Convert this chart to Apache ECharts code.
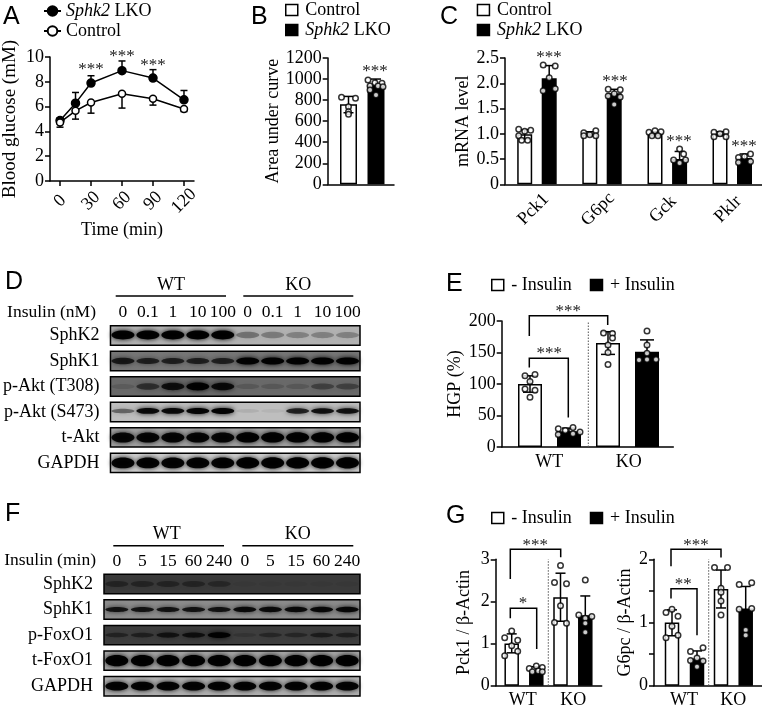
<!DOCTYPE html>
<html><head><meta charset="utf-8">
<style>html,body{margin:0;padding:0;background:#fff}#c{width:762px;height:712px}</style>
<script src="https://cdn.jsdelivr.net/npm/echarts@6/dist/echarts.min.js"></script>
</head><body><div id="c"></div>
<script>
// ---------- Panel A ----------
const aTimes=[0,15,30,60,90,120];
const aLko=[4.88,6.28,7.9,8.9,8.3,6.55];
const aLkoHigh=[5.1,7.14,8.49,9.68,8.98,7.3];
const aCtrl=[4.72,5.66,6.33,7.03,6.63,5.8];
const aCtrlLow=[4.34,4.99,5.47,5.88,6.12,5.6];
// ---------- Panel B ----------
const bMeans0=[760], bMeans1=[940];
const bLow0=[680], bHigh0=[835], bLow1=[870], bHigh1=[1000];
const bDots0=[[826,817,738,690,665]];
const bDots1=[[991,966,959,934,934,928,896,848]];
// ---------- Panel C ----------
const cCats=['Pck1','G6pc','Gck','Pklr'];
const cMeans0=[0.99,1.0,1.0,1.0], cMeans1=[2.1,1.8,0.5,0.52];
const cLow0=[0.9,0.96,0.96,0.96], cHigh0=[1.08,1.04,1.04,1.04];
const cLow1=[1.85,1.72,0.38,0.46], cHigh1=[2.35,1.88,0.65,0.6];
const cDots0=[[1.09,1.07,1.05,0.96,0.87,0.87],[1.02,1.06,0.98,0.96,0.96],[1.03,1.06,1.04,0.96,0.96],[1.03,1.04,1.0,0.94,0.94]];
const cDots1=[[2.36,2.34,2.11,1.85,1.89],[1.88,1.87,1.79,1.75,1.73,1.58],[0.7,0.48,0.6,0.42,0.48],[0.6,0.55,0.53,0.43,0.45]];
// ---------- Blots ----------
const dLanes=['0','0.1','1','10','100','0','0.1','1','10','100'];
const dRows=['SphK2','SphK1','p-Akt (T308)','p-Akt (S473)','t-Akt','GAPDH'];
const dBackground=[178,118,105,190,160,205];
const dBandHeight=[4.5,3.6,4,3,5.2,5.6];
const dBandShift=[-0.5,0,0,-1,0,0];
const dBands=[
 [.97,.97,.97,.97,.97,.32,.28,.25,.25,.25],
 [.72,.66,.66,.66,.66,.97,.97,.97,.97,.97],
 [.12,.5,.8,.97,.85,.15,.15,.15,.35,.35],
 [.42,.9,.9,.95,.97,.08,.05,.75,.85,.85],
 [.92,.92,.92,.92,.92,.97,.97,.97,.97,.97],
 [.95,.95,.95,.95,.95,.97,.97,.97,.97,.97]];
const fLanes=['0','5','15','60','240','0','5','15','60','240'];
const fRows=['SphK2','SphK1','p-FoxO1','t-FoxO1','GAPDH'];
const fBackground=[58,140,62,165,175];
const fBandHeight=[4,2.8,3,5.6,4.4];
const fBandShift=[0,0,0,0,0];
const fBands=[
 [.35,.35,.35,.35,.3,.05,.05,.05,.05,.05],
 [.8,.8,.8,.8,.8,.88,.88,.88,.9,.9],
 [.4,.45,.65,.7,.95,.15,.35,.35,.5,.45],
 [.97,.97,.97,.97,.97,.97,.97,.97,.97,.97],
 [.95,.95,.95,.95,.95,.95,.95,.95,.95,.95]];
// ---------- Panel E ----------
const eGroups=['WT','KO'];
const eMeans0=[100,165], eMeans1=[25,151];
const eLow0=[87,147], eHigh0=[113,183], eLow1=[21,133], eHigh1=[30,170];
const eDots0=[[113,115,104,92,90,79],[181,180,173,162,150,131]];
const eDots1=[[29,31,26,24,20,21],[184,162,149,138,139,139]];
// ---------- Panel G ----------
const gLMeans0=[1.0,2.1], gLMeans1=[0.36,1.67];
const gLLow0=[0.78,1.53], gLHigh0=[1.23,2.67], gLLow1=[0.3,1.2], gLHigh1=[0.45,2.13];
const gLDots0=[[1.3,1.14,1.08,0.95,0.82,0.71],[2.85,2.45,2.42,1.9,1.5,1.48]];
const gLDots1=[[0.41,0.47,0.43,0.33,0.35,0.33],[2.51,1.68,1.64,1.6,1.48,1.27]];
const gRMeans0=[1.0,1.53], gRMeans1=[0.43,1.22];
const gRLow0=[0.79,1.23], gRHigh0=[1.2,1.83], gRLow1=[0.3,0.87], gRHigh1=[0.55,1.57];
const gRDots0=[[1.21,1.16,1.1,0.94,0.8,0.76],[1.87,1.87,1.54,1.48,1.34,1.12]];
const gRDots1=[[0.6,0.54,0.44,0.4,0.39,0.3],[1.6,1.63,1.21,1.22,0.88,0.8]];

// ---------- layout (not data) ----------
const SERIF='"Liberation Serif","Times New Roman",serif';
const SANS='"Liberation Sans",Arial,sans-serif';
const FS=18, LW=1.5;
const grid=[],xAxis=[],yAxis=[],series=[],legend=[],graphic=[];

function text(t,x,y,o){o=o||{};graphic.push({type:'text',silent:true,style:{text:t,x,y:y+1.5,fill:'#000',font:(o.size||FS)+'px '+(o.fam||SERIF),align:o.align||'center',verticalAlign:'middle'}});}
function hline(x1,x2,y){graphic.push({type:'line',silent:true,shape:{x1,y1:y,x2,y2:y},style:{stroke:'#000',lineWidth:LW}});}

function segs(p1,p2){return {type:'line',shape:{x1:p1[0],y1:p1[1],x2:p2[0],y2:p2[1]},style:{stroke:'#000',lineWidth:LW}};}
function errorSeries(i,rows,cap,z){
  series.push({type:'custom',xAxisIndex:i,yAxisIndex:i,z:z||3,silent:true,clip:false,encode:{x:0,y:[1,2]},data:rows,
    renderItem(p,api){const a=api.coord([api.value(0),api.value(1)]),b=api.coord([api.value(0),api.value(2)]);
      return {type:'group',children:[segs(a,b),segs([a[0]-cap,a[1]],[a[0]+cap,a[1]]),segs([b[0]-cap,b[1]],[b[0]+cap,b[1]])]};}});
}
function starSeries(i,stars,size){
  series.push({type:'custom',xAxisIndex:i,yAxisIndex:i,z:6,silent:true,clip:false,encode:{x:0,y:1},data:stars.map(s=>[s[0],s[1]]),
    renderItem(p,api){const c=api.coord([api.value(0),api.value(1)]);
      return {type:'text',style:{text:stars[p.dataIndex][2],x:c[0],y:c[1]+3,fill:'#222',font:(size||17)+'px '+SERIF,align:'center',verticalAlign:'middle'}};}});
}
function bracketSeries(i,rows){ // x1,x2,yLeftEnd,yTop,yRightEnd
  series.push({type:'custom',xAxisIndex:i,yAxisIndex:i,z:5,silent:true,clip:false,encode:{x:[0,1],y:[2,3,4]},data:rows,
    renderItem(p,api){const x1=api.value(0),x2=api.value(1);
      const pts=[[x1,api.value(2)],[x1,api.value(3)],[x2,api.value(3)],[x2,api.value(4)]].map(q=>api.coord(q));
      return {type:'polyline',shape:{points:pts},style:{stroke:'#000',lineWidth:LW,fill:null}};}});
}
function dividerSeries(i,x,yMax){
  series.push({type:'custom',xAxisIndex:i,yAxisIndex:i,z:1,silent:true,clip:false,encode:{x:0,y:[1,2]},data:[[x,0,yMax]],
    renderItem(p,api){const a=api.coord([api.value(0),api.value(1)]),b=api.coord([api.value(0),api.value(2)]);
      return {type:'line',shape:{x1:a[0],y1:a[1],x2:b[0],y2:b[1]},style:{stroke:'#555',lineWidth:1,lineDash:[1.5,1.5]}};}});
}
function dots(centers,values,jitter){const out=[];values.forEach((g,k)=>g.forEach((v,j)=>out.push([centers[k]+jitter[k][j],v])));return out;}

function barPanel(o){
  const i=grid.length,[l,t,w,h]=o.grid;
  grid.push({left:l,top:t,width:w,height:h});
  xAxis.push({type:'value',gridIndex:i,min:l,max:l+w,splitLine:{show:false},axisTick:{show:false},
    axisLine:{onZero:false,lineStyle:{color:'#000',width:LW}},
    axisLabel:{customValues:o.labelX,interval:0,margin:o.labelMargin,rotate:o.rotate||0,color:'#000',fontFamily:SERIF,fontSize:FS,
      align:'center',verticalAlign:'middle',hideOverlap:false,showMinLabel:true,showMaxLabel:true,formatter:(v)=>o.labels[o.labelX.indexOf(v)]}});
  yAxis.push({type:'value',gridIndex:i,min:0,max:o.yMax,interval:o.interval,splitLine:{show:false},
    name:o.yName,nameLocation:'middle',nameGap:o.nameGap,nameTextStyle:{color:'#000',fontFamily:SERIF,fontSize:FS},
    axisLine:{show:true,onZero:false,lineStyle:{color:'#000',width:LW}},axisTick:{show:true,length:5,lineStyle:{color:'#000',width:LW}},
    axisLabel:{margin:6,color:'#000',fontFamily:SERIF,fontSize:FS,formatter:o.fmt||(v=>String(v))}});
  const c=o.barWidth;
  series.push({type:'bar',name:o.names[0],xAxisIndex:i,yAxisIndex:i,z:2,barWidth:c,barGap:'-100%',silent:true,
    itemStyle:{color:'#fff',borderColor:'#000',borderWidth:LW},data:o.c0.map((x,k)=>[x,o.m0[k]])});
  series.push({type:'bar',name:o.names[1],xAxisIndex:i,yAxisIndex:i,z:2,barWidth:c,barGap:'-100%',silent:true,
    itemStyle:{color:'#000',borderColor:'#000',borderWidth:LW},data:o.c1.map((x,k)=>[x,o.m1[k]])});
  errorSeries(i,o.c0.map((x,k)=>[x,o.lo0[k],o.hi0[k]]).concat(o.c1.map((x,k)=>[x,o.lo1[k],o.hi1[k]])),o.cap||5);
  series.push({type:'scatter',xAxisIndex:i,yAxisIndex:i,z:4,silent:true,symbol:'circle',symbolSize:o.dot||5.5,clip:false,
    itemStyle:{color:'#fff',borderColor:'#000',borderWidth:LW},data:dots(o.c0,o.d0,o.j0).concat(dots(o.c1,o.d1,o.j1))});
  if(o.stars)starSeries(i,o.stars);
  if(o.brackets)bracketSeries(i,o.brackets);
  if(o.divider)dividerSeries(i,o.divider,o.yMax);
}
const richName=n=>n.replace('Sphk2','{i|Sphk2}');
const legendText={color:'#000',fontFamily:SERIF,fontSize:FS,rich:{i:{fontStyle:'italic',fontFamily:SERIF,fontSize:FS,color:'#000'}}};
const legendTextPad=Object.assign({},legendText,{padding:[0,0,0,2.5]});
const white={color:'#fff',borderColor:'#000',borderWidth:LW};
const black={color:'#000',borderColor:'#000',borderWidth:LW};
function rectLegend(names,left,top,orient,gap){
  legend.push({left,top,orient,padding:0,itemGap:gap,itemWidth:12,itemHeight:11,selectedMode:false,textStyle:legendTextPad,formatter:richName,
    data:names.map(n=>({name:n[0],icon:'rect',itemStyle:n[1]}))});
}

// ---------- Panel A ----------
(function(){
  const i=grid.length;
  grid.push({left:50,top:57,width:144,height:124});
  xAxis.push({type:'value',gridIndex:i,min:-9.7,max:129.7,name:'Time (min)',nameLocation:'middle',nameGap:40,
    nameTextStyle:{color:'#000',fontFamily:SERIF,fontSize:FS},splitLine:{show:false},
    axisLine:{onZero:false,lineStyle:{color:'#000',width:LW}},
    axisTick:{customValues:aTimes,length:5,lineStyle:{color:'#000',width:LW}},
    axisLabel:{customValues:aTimes,rotate:45,margin:20,align:'center',verticalAlign:'middle',color:'#000',fontFamily:SERIF,fontSize:FS,hideOverlap:false,showMinLabel:true,showMaxLabel:true}});
  yAxis.push({type:'value',gridIndex:i,min:0,max:10,interval:2,splitLine:{show:false},name:'Blood glucose (mM)',nameLocation:'middle',nameGap:30,
    nameTextStyle:{color:'#000',fontFamily:SERIF,fontSize:19},
    axisLine:{show:true,onZero:false,lineStyle:{color:'#000',width:LW}},axisTick:{show:true,length:5,lineStyle:{color:'#000',width:LW}},
    axisLabel:{margin:6,color:'#000',fontFamily:SERIF,fontSize:FS}});
  errorSeries(i,aTimes.map((t,k)=>[t,aLko[k],aLkoHigh[k]]),3.5,1);
  errorSeries(i,aTimes.map((t,k)=>[t,aCtrlLow[k],aCtrl[k]]),3.5,1);
  series.push({type:'line',name:'Sphk2 LKO',xAxisIndex:i,yAxisIndex:i,z:3,symbol:'circle',symbolSize:8,silent:true,
    lineStyle:{color:'#000',width:LW},itemStyle:{color:'#000',borderColor:'#000',borderWidth:LW},data:aTimes.map((t,k)=>[t,aLko[k]])});
  series.push({type:'line',name:'Control',xAxisIndex:i,yAxisIndex:i,z:4,symbol:'circle',symbolSize:7,silent:true,showSymbol:true,
    lineStyle:{color:'#000',width:LW},itemStyle:{color:'#fff',borderColor:'#000',borderWidth:LW},data:aTimes.map((t,k)=>[t,aCtrl[k]])});
  starSeries(i,[[30,9.2,'***'],[60,10.25,'***'],[90,9.55,'***']]);
  legend.push({left:43,top:2,orient:'vertical',padding:0,itemGap:2,itemWidth:17,itemHeight:12,selectedMode:false,textStyle:legendText,formatter:richName,data:['Sphk2 LKO','Control']});
})();

// ---------- Panel B ----------
barPanel({grid:[327.7,58,66.3,126.3],yMax:1200,interval:200,yName:'Area under curve',nameGap:43,names:['Control','Sphk2 LKO'],barWidth:17,
  c0:[348.5],c1:[376],m0:bMeans0,m1:bMeans1,lo0:bLow0,hi0:bHigh0,lo1:bLow1,hi1:bHigh1,d0:bDots0,d1:bDots1,
  j0:[[-7,7,0,0,0]],j1:[[-8,-1,6,-6,2,7,-6,0]],labelX:[],labels:[],stars:[[375,1102,'***']]});
rectLegend([['Control',white],['Sphk2 LKO',black]],285,1,'vertical',2);

// ---------- Panel C ----------
barPanel({grid:[505,58,257,126.3],yMax:2.5,interval:0.5,fmt:v=>v===0?'0':v.toFixed(1),yName:'mRNA level',nameGap:31,names:['Control','Sphk2 LKO'],barWidth:15,
  c0:[524.7,589.8,655,720],c1:[549.2,614.2,679.6,744.5],m0:cMeans0,m1:cMeans1,lo0:cLow0,hi0:cHigh0,lo1:cLow1,hi1:cHigh1,d0:cDots0,d1:cDots1,
  j0:[[-6,6,0,-6,-3,3],[-6,6,0,-6,6],[-6,0,6,-3,3],[-6,6,0,-6,6]],j1:[[-6,6,0,-6,6],[-6,6,0,-6,6,0],[0,-6,4,0,6],[6,0,-6,-6,6]],
  labelX:[533.3,598,663,728],labels:cCats,labelMargin:25,rotate:45,
  stars:[[549,2.56,'***'],[615,2.1,'***'],[679,0.9,'***'],[744,0.81,'***']]});
rectLegend([['Control',white],['Sphk2 LKO',black]],476.7,1,'vertical',2);

// ---------- Blots ----------
function blot(lanes,rows,bg,bh,shift,bands,top,pitch){
  const i=grid.length,h=pitch*rows.length;
  grid.push({left:104,top,width:256,height:h});
  xAxis.push({type:'category',gridIndex:i,position:'top',data:lanes,axisLine:{show:false},axisTick:{show:false},
    axisLabel:{interval:0,margin:1,color:'#000',fontFamily:SERIF,fontSize:17.5,hideOverlap:false}});
  yAxis.push({type:'category',gridIndex:i,inverse:true,data:rows,axisLine:{show:false},axisTick:{show:false},
    axisLabel:{interval:0,margin:11,color:'#000',fontFamily:SERIF,fontSize:18}});
  series.push({type:'custom',xAxisIndex:i,yAxisIndex:i,z:2,silent:true,clip:false,encode:{x:0,y:1},
    data:rows.map((r,k)=>[0,k]),
    renderItem(p,api){const c=api.coord([0,api.value(1)]),g=bg[api.value(1)];
      return {type:'rect',shape:{x:p.coordSys.x,y:c[1]-9.7,width:p.coordSys.width,height:19.4},
        style:{fill:`rgb(${g},${g},${g})`,stroke:'#000',lineWidth:LW}};}});
  const cells=[];bands.forEach((r,ri)=>r.forEach((v,li)=>cells.push([li,ri,v])));
  series.push({type:'custom',xAxisIndex:i,yAxisIndex:i,z:3,silent:true,clip:false,encode:{x:0,y:1},data:cells,
    renderItem(p,api){const c=api.coord([api.value(0),api.value(1)]),v=api.value(2),r=api.value(1);
      const ry=bh[r]*(0.6+0.4*v),col=`rgba(0,0,0,${v})`;
      return {type:'ellipse',shape:{cx:c[0],cy:c[1]+shift[r],rx:11.5,ry},style:{fill:col,shadowColor:col,shadowBlur:5}};}});
}
blot(dLanes,dRows,dBackground,dBandHeight,dBandShift,dBands,322.8,25.47);
blot(fLanes,fRows,fBackground,fBandHeight,fBandShift,fBands,571.2,25.55);
text('WT',171,284);text('KO',298.3,284);hline(115.7,226,296);hline(243.3,353.3,296);
text('Insulin (nM)',96,310.7,{align:'right',size:17.5});
text('WT',166.7,533);text('KO',297.7,533);hline(113.3,224,545.7);hline(242.3,353.3,545.7);
text('Insulin (min)',96,559,{align:'right',size:17.5});

// ---------- Panel E ----------
barPanel({grid:[501.7,321,171.6,126],yMax:200,interval:50,yName:'HGP (%)',nameGap:37,names:['- Insulin','+ Insulin'],barWidth:24,cap:7,
  c0:[530,608],c1:[569,647],m0:eMeans0,m1:eMeans1,lo0:eLow0,hi0:eHigh0,lo1:eLow1,hi1:eHigh1,d0:eDots0,d1:eDots1,
  j0:[[-5,5,0,-5,5,0],[-4.5,4.5,4.5,0,0,0]],j1:[[-10.7,4,-3.7,11,-10.7,4],[0,0,0,-8,0,9]],
  labelX:[549.3,628.7],labels:eGroups,labelMargin:15,divider:588.3,
  stars:[[568.3,220,'***'],[549.3,152.8,'***']],
  brackets:[[529.3,607.7,176,208.5,193.6],[529.3,568.3,126,141,47]]});
rectLegend([['- Insulin',white],['+ Insulin',black]],491,276,'horizontal',18);

// ---------- Panel G ----------
barPanel({grid:[495.7,559.3,106,126.4],yMax:3,interval:1,yName:'Pck1 / β-Actin',nameGap:22,names:['- Insulin','+ Insulin'],barWidth:14.5,cap:5,
  c0:[511.7,560.5],c1:[536.3,585.3],m0:gLMeans0,m1:gLMeans1,lo0:gLLow0,hi0:gLHigh0,lo1:gLLow1,hi1:gLHigh1,d0:gLDots0,d1:gLDots1,
  j0:[[0,-7,6,0,6,-7],[0,-6,6,0,-6,6]],j1:[[-7,0,6,-4,2,6],[0,-6.5,6.5,0,0,0]],
  labelX:[522.7,573.3],labels:eGroups,labelMargin:15,divider:548.3,
  stars:[[535.3,3.4,'***'],[523,2.01,'*']],
  brackets:[[510.3,560.7,2.53,3.24,3.05],[510.3,536.7,1.6,1.84,0.87]]});
barPanel({grid:[654,559.3,107.7,126.4],yMax:2,interval:0.5,fmt:v=>Number.isInteger(v)?String(v):'',yName:'G6pc / β-Actin',nameGap:20,names:['- Insulin','+ Insulin'],barWidth:14.5,cap:5,
  c0:[672,721],c1:[697,745.7],m0:gRMeans0,m1:gRMeans1,lo0:gRLow0,hi0:gRHigh0,lo1:gRLow1,hi1:gRHigh1,d0:gRDots0,d1:gRDots1,
  j0:[[0,-6,6,0,6,-6],[-6.5,6.5,0,0,0,0]],j1:[[6,-6.5,0,-6.5,6,0],[-6.5,6,-6.5,6,0,0]],
  labelX:[684,733.3],labels:eGroups,labelMargin:15,divider:708.7,
  stars:[[696,2.27,'***'],[683.3,1.65,'**']],
  brackets:[[671,721,1.89,2.16,2.03],[671,697,1.38,1.535,0.8]]});
rectLegend([['- Insulin',white],['+ Insulin',black]],491,509,'horizontal',18);

// ---------- Panel letters ----------
[['A',3,16],['B',251,16],['C',440,16],['D',5,280.7],['E',446,283],['F',5,513],['G',446,515]].forEach(a=>text(a[0],a[1],a[2],{size:25,fam:SANS,align:'left'}));

const chart=echarts.init(document.getElementById('c'),null,{renderer:'canvas'});
chart.setOption({animation:false,backgroundColor:'#fff',textStyle:{fontFamily:SERIF,color:'#000'},grid,xAxis,yAxis,legend,series,graphic:{elements:graphic}});
</script></body></html>
